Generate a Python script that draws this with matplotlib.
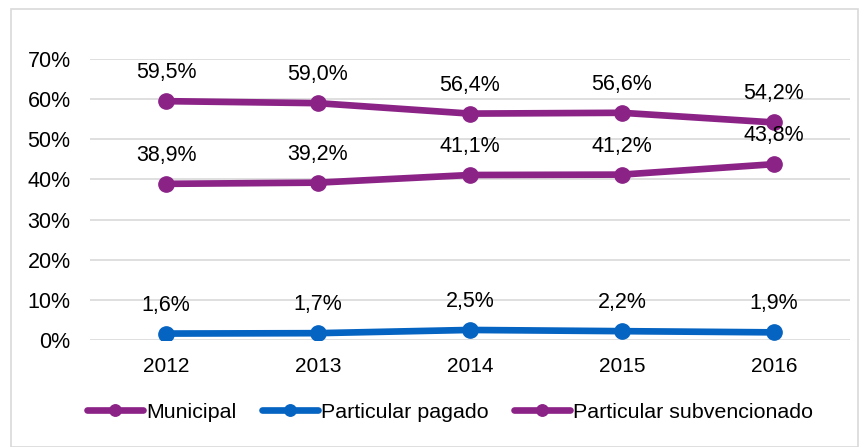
import matplotlib.pyplot as plt
from matplotlib.patches import Rectangle

years = ["2012", "2013", "2014", "2015", "2016"]
municipal = [38.9, 39.2, 41.1, 41.2, 43.8]
particular_pagado = [1.6, 1.7, 2.5, 2.2, 1.9]
particular_subvencionado = [59.5, 59.0, 56.4, 56.6, 54.2]

purple = "#8B2387"
blue = "#0563C1"

plt.rcParams['font.family'] = ['Liberation Sans', 'DejaVu Sans']

fig = plt.figure(figsize=(8.68, 4.47), dpi=100)
ax = fig.add_axes([0.1037, 0.2394, 0.8753, 0.6286])

fig.patches.append(Rectangle((11 / 868, 0), 847 / 868, 1 - 9 / 447, transform=fig.transFigure,
                             fill=False, edgecolor="#D9D9D9", linewidth=1.2))

x = list(range(len(years)))
series = [("Municipal", municipal, purple),
          ("Particular pagado", particular_pagado, blue),
          ("Particular subvencionado", particular_subvencionado, purple)]
for name, vals, col in series:
    ax.plot(x, vals, color=col, linewidth=4.8, marker="o", markersize=11,
            label=name, solid_capstyle="round")
    for xi, v in zip(x, vals):
        ax.annotate(f"{v:.1f}%".replace(".", ","), (xi, v), xytext=(0, 13),
                    textcoords="offset points", ha="center", va="bottom", fontsize=15.5)

ax.set_xlim(-0.5, 4.5)
ax.set_ylim(0, 70)
ax.set_yticks(range(0, 71, 10))
ax.set_yticklabels([f"{t}%" for t in range(0, 71, 10)], fontsize=15.5)
ax.set_xticks(x)
ax.set_xticklabels(years, fontsize=15)
ax.grid(axis="y", color="#D9D9D9", linewidth=1.2)
ax.set_axisbelow(True)
for s in ax.spines.values():
    s.set_visible(False)
ax.tick_params(length=0, pad=14)
ax.tick_params(axis="x", pad=12)

leg = fig.legend(loc="center", bbox_to_anchor=(450 / 868, 1 - 412 / 447), ncol=3, frameon=False,
                 fontsize=15.4, handlelength=2.6, handletextpad=0.15, columnspacing=1.2,
                 markerscale=0.75)

fig.savefig("out.png", dpi=100)
